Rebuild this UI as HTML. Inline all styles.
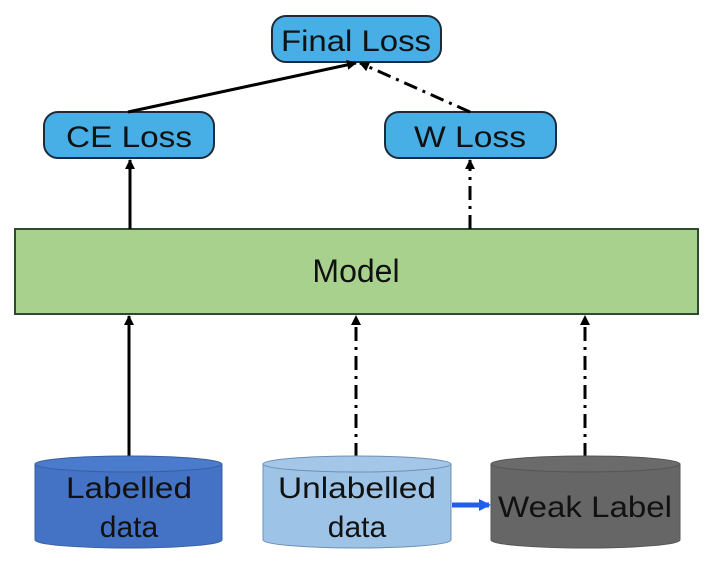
<!DOCTYPE html>
<html><head><style>
body{margin:0;background:#fff;}
svg text{font-family:"Liberation Sans",sans-serif;fill:#111;}
</style></head><body>
<svg width="720" height="569" viewBox="0 0 720 569" xmlns="http://www.w3.org/2000/svg">
<defs>
<marker id="ah" markerWidth="10" markerHeight="10" refX="9" refY="5" orient="auto" markerUnits="userSpaceOnUse" viewBox="0 0 10 10">
<path d="M0,0 L10,5 L0,10 z" fill="#000"/></marker>
<marker id="ab" markerWidth="12" markerHeight="12" refX="10" refY="6" orient="auto" markerUnits="userSpaceOnUse" viewBox="0 0 12 12">
<path d="M0,0 L12,6 L0,12 z" fill="#1f5ff0"/></marker>
</defs>
<rect x="0" y="0" width="720" height="569" fill="#fff"/>
<!-- boxes -->
<rect x="272" y="16" width="169" height="46" rx="14" fill="#47aee6" stroke="#1c2a3a" stroke-width="2"/>
<text x="356" y="51" font-size="30" text-anchor="middle" textLength="150" lengthAdjust="spacingAndGlyphs">Final Loss</text>
<rect x="44" y="112" width="170" height="46" rx="14" fill="#47aee6" stroke="#1c2a3a" stroke-width="2"/>
<text x="129" y="147" font-size="30" text-anchor="middle" textLength="126" lengthAdjust="spacingAndGlyphs">CE Loss</text>
<rect x="385" y="112" width="171" height="46" rx="14" fill="#47aee6" stroke="#1c2a3a" stroke-width="2"/>
<text x="470" y="147" font-size="30" text-anchor="middle" textLength="112" lengthAdjust="spacingAndGlyphs">W Loss</text>
<rect x="15" y="229" width="683" height="85" fill="#a9d18e" stroke="#2f4a2a" stroke-width="2"/>
<text x="356" y="282" font-size="32" text-anchor="middle">Model</text>
<!-- connectors -->
<line x1="128" y1="112" x2="356" y2="63" stroke="#000" stroke-width="3" marker-end="url(#ah)"/>
<line x1="470" y1="112" x2="360" y2="63" stroke="#000" stroke-width="3" stroke-dasharray="14,6,3,6" marker-end="url(#ah)"/>
<line x1="130" y1="229" x2="130" y2="160" stroke="#000" stroke-width="3" marker-end="url(#ah)"/>
<line x1="470" y1="229" x2="470" y2="160" stroke="#000" stroke-width="3" stroke-dasharray="14,6,3,6" marker-end="url(#ah)"/>
<line x1="129" y1="457" x2="129" y2="316" stroke="#000" stroke-width="3" marker-end="url(#ah)"/>
<line x1="356" y1="457" x2="356" y2="316" stroke="#000" stroke-width="3" stroke-dasharray="14,6,3,6" marker-end="url(#ah)"/>
<line x1="585" y1="457" x2="585" y2="316" stroke="#000" stroke-width="3" stroke-dasharray="14,6,3,6" marker-end="url(#ah)"/>
<!-- cylinders -->
<path d="M35,464 L35,540 A93,8 0 0 0 222,540 L222,464 Z" fill="#4472c4" stroke="#3a5f9f"/>
<ellipse cx="128.5" cy="464" rx="93.5" ry="8" fill="#4a7bcc" stroke="#3a5f9f"/>
<text x="129" y="498" font-size="30" text-anchor="middle" textLength="126" lengthAdjust="spacingAndGlyphs">Labelled</text>
<text x="129" y="537" font-size="30" text-anchor="middle">data</text>
<path d="M263,464 L263,540 A94,8 0 0 0 451,540 L451,464 Z" fill="#9dc3e6" stroke="#6f8fb3"/>
<ellipse cx="357" cy="464" rx="94" ry="8" fill="#a4c6e8" stroke="#6f8fb3"/>
<text x="357" y="498" font-size="30" text-anchor="middle" textLength="158" lengthAdjust="spacingAndGlyphs">Unlabelled</text>
<text x="357" y="537" font-size="30" text-anchor="middle">data</text>
<path d="M491,464 L491,540 A94,8 0 0 0 680,540 L680,464 Z" fill="#666" stroke="#555"/>
<ellipse cx="585.5" cy="464" rx="94.5" ry="8" fill="#6b6b6b" stroke="#555"/>
<text x="585" y="517" font-size="30" text-anchor="middle" textLength="174" lengthAdjust="spacingAndGlyphs">Weak Label</text>
<line x1="452" y1="505" x2="489" y2="505" stroke="#1f5ff0" stroke-width="5" marker-end="url(#ab)"/>
</svg>
</body></html>
